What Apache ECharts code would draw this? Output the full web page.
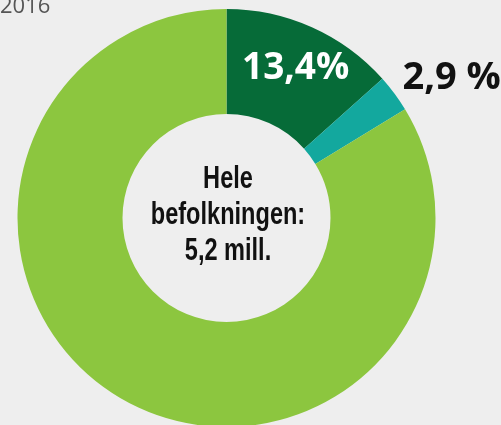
<!DOCTYPE html>
<html>
<head>
<meta charset="utf-8">
<script src="https://cdn.jsdelivr.net/npm/echarts@6/dist/echarts.min.js"></script>
<style>
  html, body { margin: 0; padding: 0; background: #eeeeee; }
  #chart { width: 501px; height: 425px; }
</style>
</head>
<body>
<div id="chart"></div>
<script>
// andel av befolkningen, 2016
var groups = ['Gruppe A', 'Gruppe B', 'Resten'];
var shares = [13.4, 2.9, 83.7];
var shareLabels = ['13,4%', '2,9 %', ''];
var colors = ['#066b38', '#13a89e', '#8cc63f'];
var yearLabel = '2016';
var centerLines = ['Hele', 'befolkningen:', '5,2 mill.'];

var myChart = echarts.init(document.getElementById('chart'));

var labelStyles = [
  { show: true, position: 'inside', color: '#ffffff', fontFamily: 'Open Sans', fontWeight: 'bold', fontSize: 37, offset: [4, -4] },
  { show: true, position: 'inside', color: '#111111', fontFamily: 'Open Sans', fontWeight: 'bold', fontSize: 38, offset: [97, -45] },
  { show: false }
];

var data = groups.map(function (g, i) {
  return {
    name: g,
    value: shares[i],
    itemStyle: { color: colors[i] },
    label: Object.assign({ formatter: shareLabels[i] }, labelStyles[i])
  };
});

var option = {
  backgroundColor: '#eeeeee',
  animation: false,
  graphic: [
    {
      type: 'text',
      x: 0,
      y: -4,
      style: {
        text: yearLabel, fill: '#555555', fontFamily: 'Open Sans', fontSize: 22,
        align: 'left', verticalAlign: 'top'
      }
    },
    {
      // condensed look: squeeze a normal sans horizontally
      type: 'text',
      x: 228,
      y: 215,
      scaleX: 0.76,
      style: {
        text: centerLines.join('\n'),
        fill: '#111111',
        fontFamily: 'Liberation Sans',
        fontWeight: 'bold',
        fontSize: 31,
        lineHeight: 36,
        align: 'center',
        verticalAlign: 'middle'
      }
    }
  ],
  series: [{
    type: 'pie',
    center: [226.5, 218],
    radius: [104, 209],
    startAngle: 90,
    clockwise: true,
    silent: true,
    labelLine: { show: false },
    data: data
  }]
};

myChart.setOption(option);
</script>
</body>
</html>
